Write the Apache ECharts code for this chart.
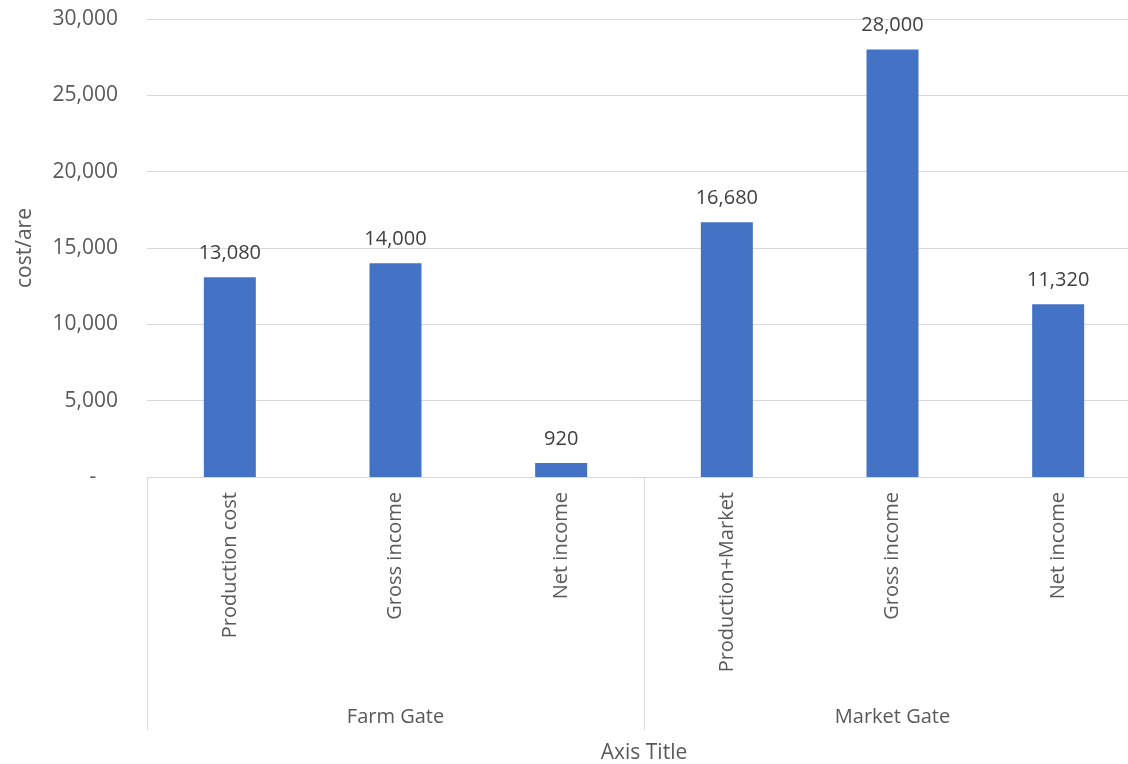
<!DOCTYPE html>
<html>
<head>
<meta charset="utf-8">
<script src="https://cdn.jsdelivr.net/npm/echarts@6/dist/echarts.min.js"></script>
<style>html,body{margin:0;padding:0;background:#fff}#c{width:1128px;height:764px}</style>
</head>
<body>
<div id="c"></div>
<script>
const categories = ['Production cost', 'Gross income', 'Net income', 'Production+Market', 'Gross income', 'Net income'];
const groups = ['Farm Gate', 'Market Gate'];
const values = [13080, 14000, 920, 16680, 28000, 11320];
const yTicks = { min: 0, max: 30000, interval: 5000 };

const fmt = v => v.toLocaleString('en-US');
const FONT = 'Open Sans';
const chart = echarts.init(document.getElementById('c'));
chart.setOption({
  animation: false,
  backgroundColor: '#ffffff',
  textStyle: { fontFamily: FONT },
  grid: { left: 147, width: 994, top: 19, height: 458, containLabel: false, outerBoundsMode: 'none' },
  xAxis: [
    {
      type: 'category', data: categories, position: 'bottom',
      axisLine: { show: true, lineStyle: { color: '#d9d9d9', width: 1 } },
      axisTick: { show: false },
      axisLabel: { rotate: 90, margin: 15, fontSize: 20, color: '#595959', fontFamily: FONT, interval: 0 }
    },
    {
      type: 'category', data: groups, position: 'bottom',
      axisLine: { show: false },
      axisTick: { show: true, length: 253, lineStyle: { color: '#d9d9d9', width: 1 } },
      axisLabel: { margin: 230, fontSize: 20, color: '#595959', fontFamily: FONT },
      name: 'Axis Title', nameLocation: 'middle', nameGap: 266,
      nameTextStyle: { fontSize: 21, color: '#595959', fontFamily: FONT }
    }
  ],
  yAxis: {
    type: 'value', min: yTicks.min, max: yTicks.max, interval: yTicks.interval,
    axisLine: { show: false }, axisTick: { show: false },
    splitLine: { lineStyle: { color: '#d9d9d9', width: 1 } },
    axisLabel: { margin: 29, fontSize: 21, color: '#595959', fontFamily: FONT,
      formatter: v => v === 0 ? '-    ' : fmt(v) },
    name: 'cost/are', nameLocation: 'middle', nameRotate: 90, nameGap: 111,
    nameTextStyle: { fontSize: 21, color: '#595959', fontFamily: FONT }
  },
  series: [{
    type: 'bar', data: values, xAxisIndex: 0, barWidth: 52,
    itemStyle: { color: '#4472c4' },
    label: { show: true, position: 'top', distance: 14, fontSize: 20, color: '#404040', fontFamily: FONT,
      formatter: p => fmt(p.value) }
  }]
});
</script>
</body>
</html>
